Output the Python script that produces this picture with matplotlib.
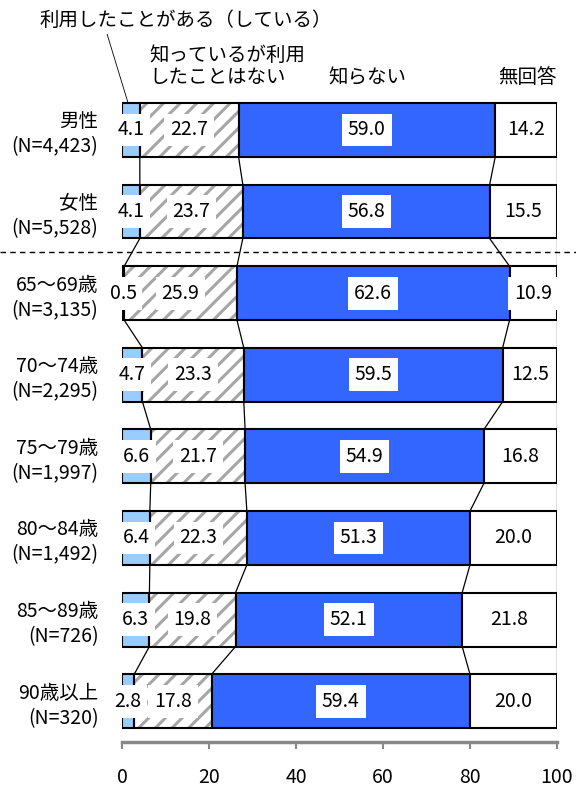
import matplotlib
matplotlib.use("Agg")
import matplotlib.pyplot as plt
import numpy as np
from matplotlib.lines import Line2D

plt.rcParams["font.family"] = ["Noto Sans CJK JP", "DejaVu Sans"]
plt.rcParams["hatch.linewidth"] = 2.2

# データ
groups = [
    "男性\n(N=4,423)",
    "女性\n(N=5,528)",
    "65～69歳\n(N=3,135)",
    "70～74歳\n(N=2,295)",
    "75～79歳\n(N=1,997)",
    "80～84歳\n(N=1,492)",
    "85～89歳\n(N=726)",
    "90歳以上\n(N=320)",
]
used = [4.1, 4.1, 0.5, 4.7, 6.6, 6.4, 6.3, 2.8]
known_not_used = [22.7, 23.7, 25.9, 23.3, 21.7, 22.3, 19.8, 17.8]
unknown = [59.0, 56.8, 62.6, 59.5, 54.9, 51.3, 52.1, 59.4]
no_answer = [14.2, 15.5, 10.9, 12.5, 16.8, 20.0, 21.8, 20.0]
x_ticks = [0, 20, 40, 60, 80, 100]

series = [used, known_not_used, unknown, no_answer]
fills = ["#99CCFF", "white", "#3366FF", "white"]

fig = plt.figure(figsize=(5.76, 7.89), dpi=100)
ax = fig.add_axes([122 / 576, 1 - 742 / 789, 435 / 576, 661 / 789])

values = np.array(series, dtype=float).T
values = values / values.sum(axis=1, keepdims=True) * 100
cum = np.hstack([np.zeros((len(groups), 1)), np.cumsum(values, axis=1)])
y = np.arange(len(groups))
h = 0.66

for k in range(4):
    left = cum[:, k]
    width = values[:, k]
    if k == 1:
        ax.barh(y, width, left=left, height=h, color="white", edgecolor="#A6A6A6",
                hatch="//", linewidth=0, zorder=2)
        ax.barh(y, width, left=left, height=h, color="none", edgecolor="black",
                linewidth=1.5, zorder=3)
    else:
        ax.barh(y, width, left=left, height=h, color=fills[k], edgecolor="black",
                linewidth=1.5, zorder=3)

# 数値ラベル
raw = np.array(series).T
for i in range(len(groups)):
    for k in range(4):
        xc = (cum[i, k] + cum[i, k + 1]) / 2
        ax.text(xc, y[i], f"{raw[i, k]:.1f}", ha="center", va="center", fontsize=14,
                zorder=5, bbox=dict(boxstyle="square,pad=0.3", facecolor="white", edgecolor="none"))

# 区切り線（隣接する帯の境界をつなぐ）
for i in range(len(groups) - 1):
    for k in range(1, 5):
        ax.plot([cum[i, k], cum[i + 1, k]], [y[i] + h / 2, y[i + 1] - h / 2],
                color="black", linewidth=0.9, zorder=1)

# 性別と年齢の間の破線
trans = ax.get_yaxis_transform()
ax.add_line(Line2D([-122 / 435, 454 / 435], [1.5, 1.5], transform=trans, color="black",
                   linewidth=1.0, linestyle=(0, (4, 3)), clip_on=False))

# 凡例代わりの見出し
ax.text(-19.0, -1.34, "利用したことがある（している）", fontsize=14, ha="left", va="center",
        clip_on=False)
ax.plot([-3.4, 1.4], [-1.17, -h / 2], color="black", linewidth=0.6, clip_on=False)
ax.text(6.4, -0.78, "知っているが利用\nしたことはない", fontsize=14, ha="left", va="center",
        linespacing=1.1, clip_on=False)
ax.text(47.4, -0.64, "知らない", fontsize=14, ha="left", va="center", clip_on=False)
ax.text(93.1, -0.64, "無回答", fontsize=14, ha="center", va="center", clip_on=False)

ax.set_xlim(0, 100)
ax.set_ylim(7.5, -0.6)
ax.set_yticks(y)
ax.set_yticklabels(groups, fontsize=14, linespacing=1.25)
ax.tick_params(axis="y", length=0, pad=17)
ax.set_xticks(x_ticks)
ax.tick_params(axis="x", length=5, width=1.5, color="#888888", labelsize=14, pad=13)
for side in ["left", "top", "right"]:
    ax.spines[side].set_visible(False)
ax.spines["bottom"].set_color("#888888")
ax.spines["bottom"].set_linewidth(2.5)
ax.patch.set_visible(False)

fig.savefig("out.png", dpi=100)
